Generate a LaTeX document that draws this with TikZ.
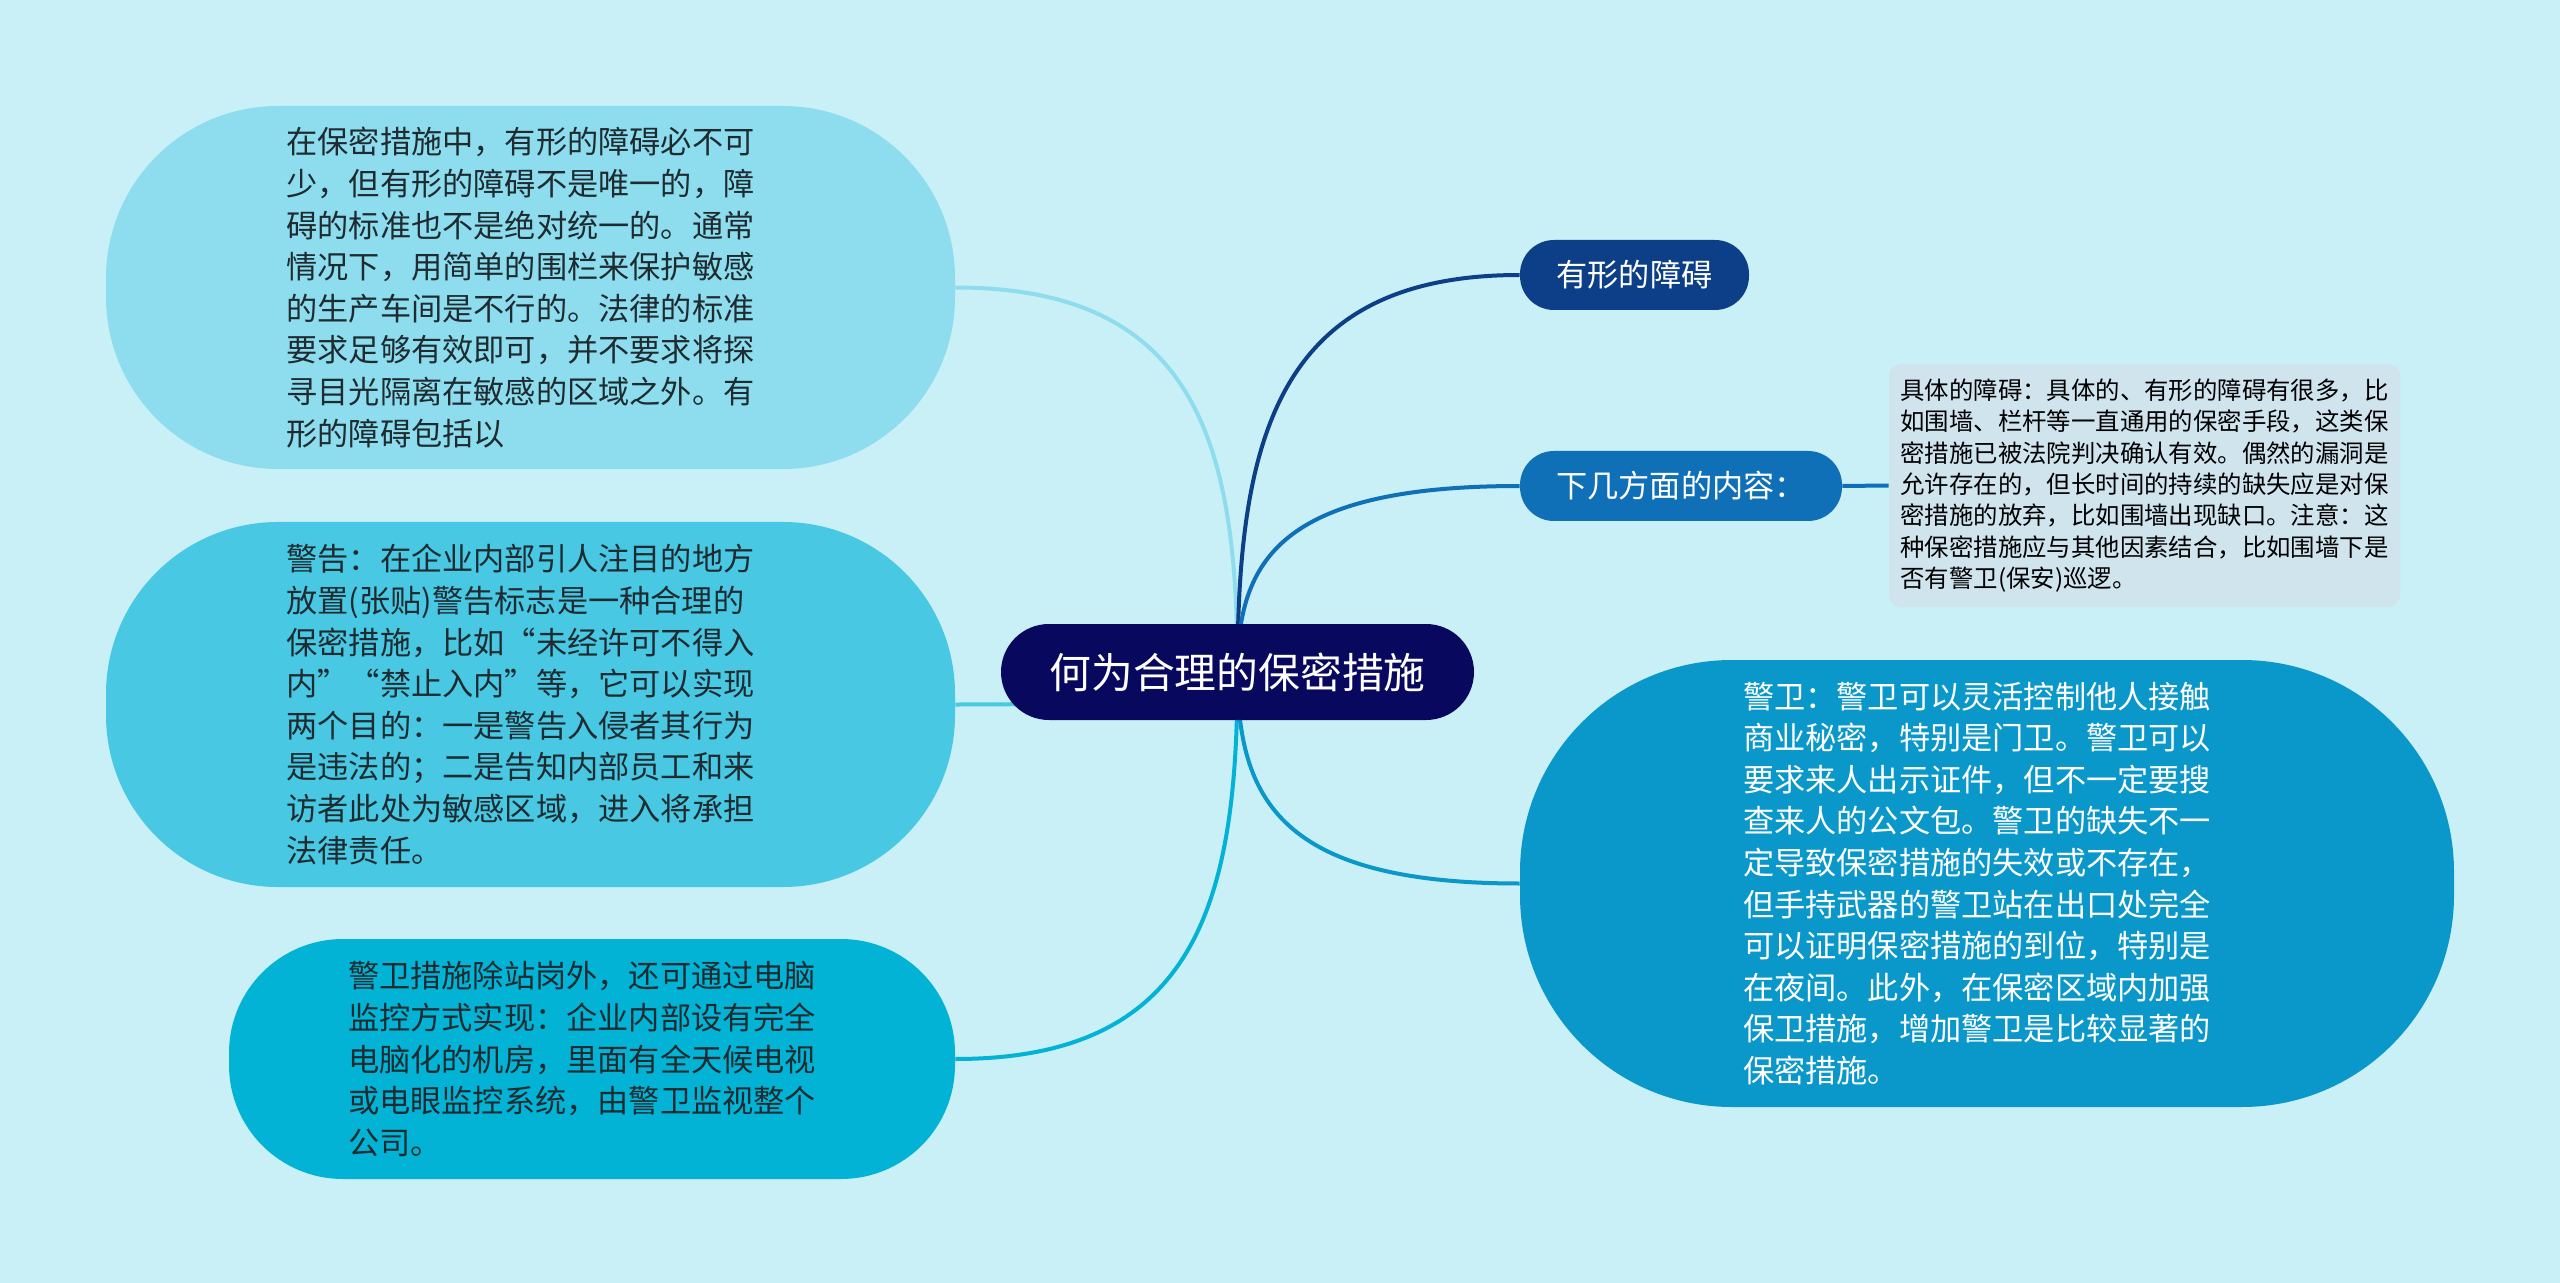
\documentclass[tikz,border=0pt]{standalone}
\usepackage{fontspec}
\newfontfamily\cjk{Noto Sans CJK SC}
\usetikzlibrary{calc,backgrounds}
\definecolor{bg}{HTML}{C9EFF7}
\definecolor{cA}{HTML}{8EDDEE}
\definecolor{cB}{HTML}{48C8E3}
\definecolor{cC}{HTML}{02B3D5}
\definecolor{cRoot}{HTML}{07085E}
\definecolor{cD}{HTML}{0C3F87}
\definecolor{cE}{HTML}{1070B7}
\definecolor{cF}{HTML}{D0E4EE}
\definecolor{cG}{HTML}{0A97C9}
\definecolor{tdark}{HTML}{1E2B30}
\newcommand\qLq{\makebox[1em][r]{“}}
\newcommand\qRq{\makebox[1em][l]{”}}
\begin{document}
\begin{tikzpicture}[x=0.5pt,y=-0.5pt,
  box/.style={draw=none, align=left, inner sep=0pt},
  txt/.style={font=\cjk\fontsize{15.6pt}{20.8pt}\selectfont},
  para/.style={txt, text width=244pt},
  small/.style={font=\cjk\fontsize{12.2pt}{15.65pt}\selectfont},
  conn/.style={line width=2pt}]

\node[box, fill=cRoot, text=white, minimum width=236.5pt, minimum height=48pt, rounded corners=24pt,
  font=\cjk\fontsize{20.9pt}{25pt}\selectfont] (root) at (1237.5,672) {何为合理的保密措施};

\node[box, fill=cA, text=tdark, minimum width=424.5pt, minimum height=181.5pt, rounded corners=86pt, para] (A) at (530.5,287.5)
{在保密措施中，有形的障碍必不可\\少，但有形的障碍不是唯一的，障\\碍的标准也不是绝对统一的。通常\\情况下，用简单的围栏来保护敏感\\的生产车间是不行的。法律的标准\\要求足够有效即可，并不要求将探\\寻目光隔离在敏感的区域之外。有\\形的障碍包括以};

\node[box, fill=cB, text=tdark, minimum width=424.5pt, minimum height=182.5pt, rounded corners=86pt, para] (B) at (530.5,704.5)
{警告：在企业内部引人注目的地方\\放置(张贴)警告标志是一种合理的\\保密措施，比如\qLq 未经许可不得入\\内\qRq\qLq 禁止入内\qRq 等，它可以实现\\两个目的：一是警告入侵者其行为\\是违法的；二是告知内部员工和来\\访者此处为敏感区域，进入将承担\\法律责任。};

\node[box, fill=cC, text=tdark, minimum width=363pt, minimum height=120pt, rounded corners=57pt, para] (C) at (592,1059)
{警卫措施除站岗外，还可通过电脑\\监控方式实现：企业内部设有完全\\电脑化的机房，里面有全天候电视\\或电眼监控系统，由警卫监视整个\\公司。};

\node[box, fill=cD, text=white, minimum width=114.5pt, minimum height=35pt, rounded corners=17pt, txt] (D) at (1634.5,275) {有形的障碍};

\node[box, fill=cE, text=white, minimum width=161pt, minimum height=35pt, rounded corners=17pt, txt] (E) at (1681,486) {下几方面的内容：};

\node[box, fill=cF, text=black, minimum width=255.5pt, minimum height=121.5pt, rounded corners=6pt, small] (F) at (2144.5,485.5)
{具体的障碍：具体的、有形的障碍有很多，比\\如围墙、栏杆等一直通用的保密手段，这类保\\密措施已被法院判决确认有效。偶然的漏洞是\\允许存在的，但长时间的持续的缺失应是对保\\密措施的放弃，比如围墙出现缺口。注意：这\\种保密措施应与其他因素结合，比如围墙下是\\否有警卫(保安)巡逻。};

\node[box, fill=cG, text=white, minimum width=467pt, minimum height=223.5pt, rounded corners=106pt, para] (G) at (1987,883.5)
{警卫：警卫可以灵活控制他人接触\\商业秘密，特别是门卫。警卫可以\\要求来人出示证件，但不一定要搜\\查来人的公文包。警卫的缺失不一\\定导致保密措施的失效或不存在，\\但手持武器的警卫站在出口处完全\\可以证明保密措施的到位，特别是\\在夜间。此外，在保密区域内加强\\保卫措施，增加警卫是比较显著的\\保密措施。};

\begin{pgfonlayer}{background}
\fill[bg] (0,0) rectangle (2560,1283);
\foreach \n/\c/\a in {A/cA/east, B/cB/east, C/cC/east, D/cD/west, E/cE/west, G/cG/west}{
  \draw[conn, draw=\c] (root.center)
    .. controls ($(root.center)!0.6!(root.center |- \n.\a)$) and ($(\n.\a)!0.85!(\n.\a -| root.center)$)
    .. (\n.\a);
}
\draw[conn, draw=cE] (E.east) -- (F.west);
\end{pgfonlayer}
\end{tikzpicture}
\end{document}
